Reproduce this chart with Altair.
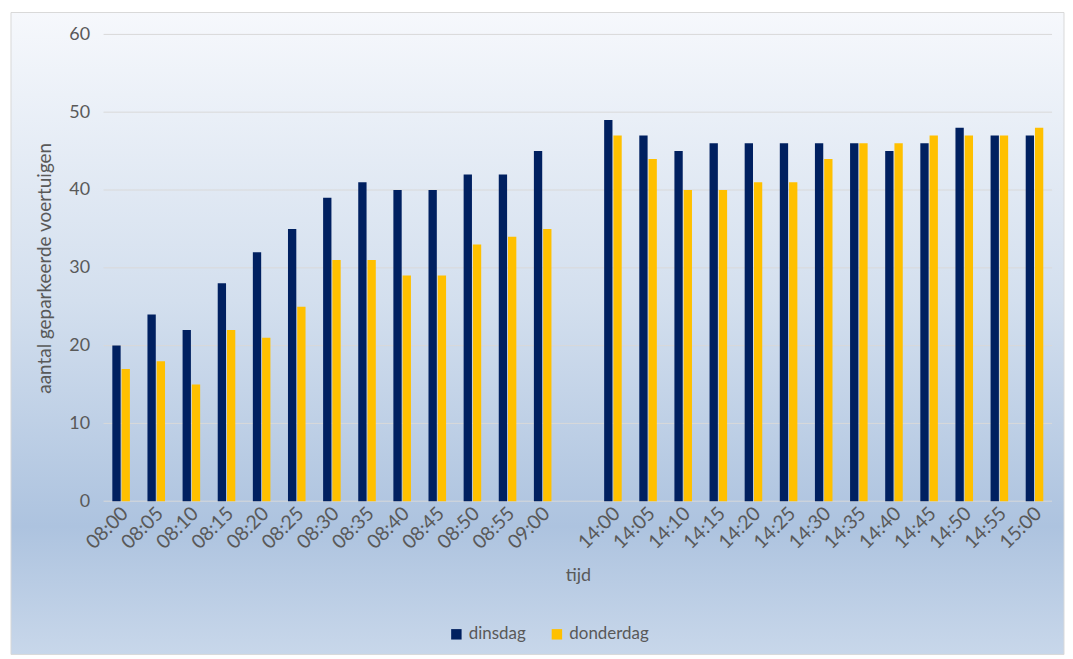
import altair as alt
import pandas as pd

times_am = ["08:00", "08:05", "08:10", "08:15", "08:20", "08:25", "08:30",
            "08:35", "08:40", "08:45", "08:50", "08:55", "09:00"]
times_pm = ["14:00", "14:05", "14:10", "14:15", "14:20", "14:25", "14:30",
            "14:35", "14:40", "14:45", "14:50", "14:55", "15:00"]
dinsdag = [20, 24, 22, 28, 32, 35, 39, 41, 40, 40, 42, 42, 45,
           49, 47, 45, 46, 46, 46, 46, 46, 45, 46, 48, 47, 47]
donderdag = [17, 18, 15, 22, 21, 25, 31, 31, 29, 29, 33, 34, 35,
             47, 44, 40, 40, 41, 41, 44, 46, 46, 47, 47, 47, 48]
series = ["dinsdag", "donderdag"]
colors = ["#002060", "#FFC000"]
grid_values = [0, 10, 20, 30, 40, 50, 60]

GAP = "gap"
domain = times_am + [GAP] + times_pm
times = times_am + times_pm

rows = []
for t, a, b in zip(times, dinsdag, donderdag):
    rows.append({"tijd": t, "dag": "dinsdag", "waarde": a})
    rows.append({"tijd": t, "dag": "donderdag", "waarde": b})
df = pd.DataFrame(rows)

W, H = 953, 469
FONT = "Lato"
GRAY = "#595959"

bg = alt.Chart(pd.DataFrame({"a": [0]})).mark_rect(
    fill=alt.Gradient(
        gradient="linear", x1=0, y1=0, x2=0, y2=1,
        stops=[alt.GradientStop(color="#f6f8fc", offset=0),
               alt.GradientStop(color="#d3dfee", offset=0.45),
               alt.GradientStop(color="#adc3df", offset=0.8),
               alt.GradientStop(color="#c8d7ea", offset=1)]),
    stroke="#d9d9d9", strokeWidth=1
).encode(x=alt.value(-93), x2=alt.value(W + 12), y=alt.value(-22), y2=alt.value(H + 154))

grid = alt.Chart(pd.DataFrame({"v": grid_values})).mark_rule(
    color="#d9d9d9", strokeWidth=1
).encode(y=alt.Y("v:Q", scale=alt.Scale(domain=[0, 60])))

bars = alt.Chart(df).mark_bar().encode(
    x=alt.X("tijd:N", scale=alt.Scale(domain=domain, paddingInner=0.5, paddingOuter=0.25),
            axis=alt.Axis(title="tijd", labelAngle=-45, labelAlign="right", labelBaseline="middle",
                          labelExpr="datum.value == 'gap' ? '' : datum.value",
                          labelFont=FONT, labelFontSize=19.5, labelColor=GRAY, labelPadding=9,
                          labelOffset=4,
                          ticks=False, domain=False, grid=False, zindex=1,
                          titleFont=FONT, titleFontSize=18, titleFontWeight="normal",
                          titleColor=GRAY, titlePadding=15)),
    xOffset=alt.XOffset("dag:N", scale=alt.Scale(domain=series, paddingInner=0.1)),
    y=alt.Y("waarde:Q", scale=alt.Scale(domain=[0, 60]),
            axis=alt.Axis(title="aantal geparkeerde voertuigen", values=grid_values,
                          labelFont=FONT, labelFontSize=18, labelColor=GRAY, labelPadding=14,
                          ticks=False, domain=False, grid=False, zindex=1,
                          titleFont=FONT, titleFontSize=19, titleFontWeight="normal",
                          titleColor=GRAY, titlePadding=14)),
    color=alt.Color("dag:N", scale=alt.Scale(domain=series, range=colors),
                    legend=alt.Legend(title=None, orient="none", legendX=346, legendY=594,
                                      direction="horizontal", symbolType="square",
                                      symbolSize=110, symbolStrokeWidth=0,
                                      labelFont=FONT, labelFontSize=17, labelColor=GRAY,
                                      columnPadding=22, zindex=1)),
)

chart = alt.layer(bg, grid, bars).properties(
    width=W, height=H,
    padding={"left": 2, "top": 2, "right": 0, "bottom": 0},
    background="white",
).configure_view(stroke=None)

chart.save("out.html", embed_options={"renderer": "svg", "actions": False})
